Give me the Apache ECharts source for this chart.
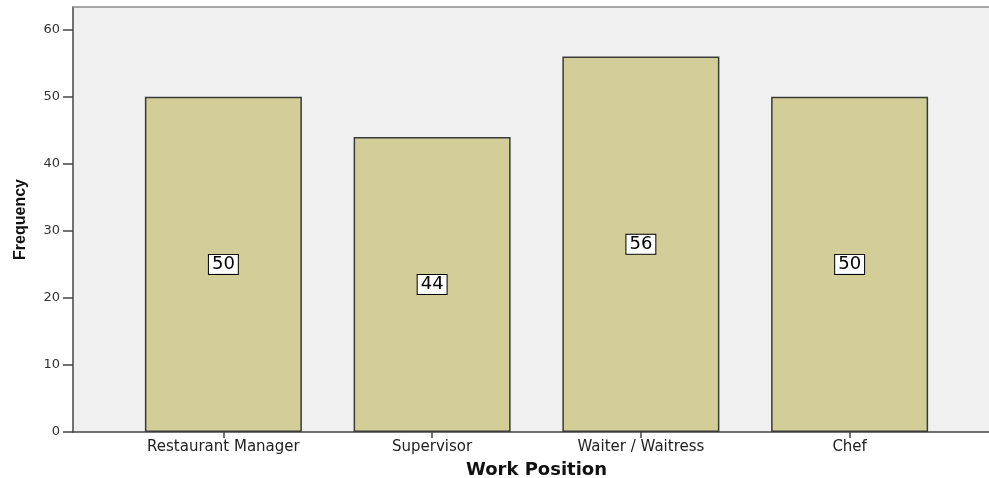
<!DOCTYPE html>
<html>
<head>
<meta charset="utf-8">
<script src="https://cdn.jsdelivr.net/npm/echarts@6/dist/echarts.min.js"></script>
<style>html,body{margin:0;padding:0;background:#fff}#c{width:989px;height:478px}</style>
</head>
<body>
<div id="c"></div>
<script>
const categories = ['Restaurant Manager', 'Supervisor', 'Waiter / Waitress', 'Chef'];
const frequency = [50, 44, 56, 50];
const yTicks = [0, 10, 20, 30, 40, 50, 60];
const yMax = 63.4;

const chart = echarts.init(document.getElementById('c'));
const axisFont = 'DejaVu Sans';
chart.setOption({
  animation: false,
  grid: [
    {left: 73, right: 0, top: 7, bottom: 46, show: true, backgroundColor: '#f0f0f0', borderWidth: 0,
     outerBoundsMode: 'none', containLabel: false},
    {left: 119, right: 35, top: 7, bottom: 46, outerBoundsMode: 'none', containLabel: false}
  ],
  xAxis: [
    {gridIndex: 0, type: 'value', min: 0, max: 1, position: 'bottom',
     axisLine: {show: true, lineStyle: {color: '#444', width: 1.5}},
     axisTick: {show: false}, axisLabel: {show: false}, splitLine: {show: false}},
    {gridIndex: 0, type: 'value', min: 0, max: 1, position: 'top',
     axisLine: {show: true, lineStyle: {color: '#8a8a8a', width: 1.5}},
     axisTick: {show: false}, axisLabel: {show: false}, splitLine: {show: false}},
    {gridIndex: 1, type: 'category', data: categories, position: 'bottom',
     axisLine: {show: false},
     axisTick: {show: true, alignWithLabel: true, length: 6, lineStyle: {color: '#444', width: 1.5}},
     axisLabel: {fontFamily: axisFont, fontSize: 15, color: '#222', margin: 8},
     name: 'Work Position', nameLocation: 'middle', nameGap: 29,
     nameTextStyle: {fontFamily: axisFont, fontWeight: 'bold', fontSize: 18, color: '#111'}}
  ],
  yAxis: [
    {gridIndex: 0, type: 'value', min: 0, max: yMax, interval: 10,
     axisLine: {show: true, lineStyle: {color: '#444', width: 1.5}},
     axisTick: {show: true, length: 10, customValues: yTicks, lineStyle: {color: '#444', width: 1.5}},
     axisLabel: {customValues: yTicks, fontFamily: axisFont, fontSize: 13, color: '#333', margin: 13},
     splitLine: {show: false},
     name: 'Frequency', nameLocation: 'middle', nameGap: 44, nameRotate: 90,
     nameTextStyle: {fontFamily: 'Liberation Sans', fontWeight: 'bold', fontSize: 16, color: '#111'}},
    {gridIndex: 1, type: 'value', min: 0, max: yMax, show: false, splitLine: {show: false}}
  ],
  series: [{
    type: 'bar', xAxisIndex: 2, yAxisIndex: 1, data: frequency, barWidth: 157,
    itemStyle: {color: '#d3ce98', borderColor: '#3a3a3a', borderWidth: 1.5},
    label: {show: true, position: 'inside', fontFamily: axisFont, fontSize: 18, color: '#000',
            backgroundColor: '#fff', borderColor: '#000', borderWidth: 1, padding: [0, 3], lineHeight: 19}
  }]
});
</script>
</body>
</html>
